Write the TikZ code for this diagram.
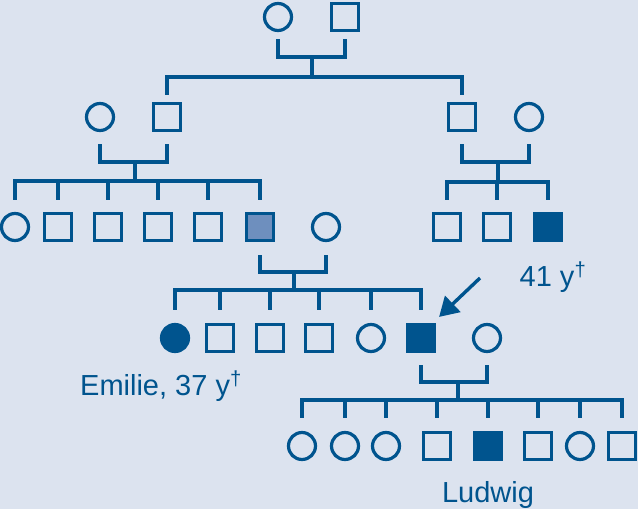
\documentclass[tikz,border=0pt]{standalone}
\usepackage{fontspec}
\setmainfont{Liberation Sans}
\usetikzlibrary{arrows.meta}
\definecolor{pedBlue}{RGB}{0,84,142}
\definecolor{pedGrey}{RGB}{110,143,190}
\definecolor{pedBack}{RGB}{220,227,239}

\begin{document}
\begin{tikzpicture}[
    x=1pt, y=-1pt,
    indiv/.style={draw=pedBlue, line width=3.2pt, minimum size=27pt, inner sep=0pt},
    male/.style={indiv, rectangle},
    female/.style={indiv, circle},
    affM/.style={male, fill=pedBlue},
    affF/.style={female, fill=pedBlue},
    carM/.style={male, fill=pedGrey},
    link/.style={draw=pedBlue, line width=3.2pt},
    pointer/.style={-{Triangle[length=19pt,width=22pt]}, draw=pedBlue, line width=3.4pt},
    lbl/.style={text=pedBlue, font=\fontsize{29}{34}\selectfont, inner sep=0pt, anchor=base},
  ]
  \fill[pedBack] (0,0) rectangle (638,509);
  \useasboundingbox (0,0) rectangle (638,509);

  % Generation I
  \node[female] (I1) at (278,17) {};
  \node[male]   (I2) at (345,17) {};

  % Generation II
  \node[female] (II1) at (100,117) {};
  \node[male]   (II2) at (167,117) {};
  \node[male]   (II3) at (462,117) {};
  \node[female] (II4) at (529,117) {};

  % Generation III
  \foreach \x/\s [count=\i] in {15/female, 58/male, 108/male, 158/male, 208/male,
      260/carM, 326/female, 447/male, 497/male, 548/affM}
    \node[\s] (III\i) at (\x,227) {};

  % Generation IV
  \foreach \x/\s [count=\i] in {175/affF, 220/male, 270/male, 319/male, 371/female,
      421/affM, 487/female}
    \node[\s] (IV\i) at (\x,338) {};

  % Generation V
  \foreach \x/\s [count=\i] in {302/female, 345/female, 386/female, 437/male,
      488/affM, 538/male, 580/female, 622/male}
    \node[\s] (V\i) at (\x,446) {};

  % I1 x I2
  \coordinate (J1) at (312,57);
  \coordinate (S1) at (312,77);
  \draw[link] ([yshift=-7pt]I1.south) |- (J1) -| ([yshift=-7pt]I2.south);
  \draw[link] (J1) -- (S1);
  \draw[link] ([yshift=7pt]II2.north) |- (S1) -| ([yshift=7pt]II3.north);

  % II1 x II2
  \coordinate (J2) at (135,162);
  \coordinate (S2) at (135,181);
  \draw[link] ([yshift=-12pt]II1.south) |- (J2) -| ([yshift=-12pt]II2.south);
  \draw[link] (J2) -- (S2);
  \draw[link] ([yshift=12pt]III1.north) |- (S2) -| ([yshift=12pt]III6.north);
  \foreach \i in {2,...,5}
    \draw[link] ([yshift=12pt]III\i.north) -- (III\i.north |- S2);

  % II3 x II4
  \coordinate (J3) at (498,162);
  \coordinate (S3) at (498,182);
  \draw[link] ([yshift=-12pt]II3.south) |- (J3) -| ([yshift=-12pt]II4.south);
  \draw[link] (J3) -- (S3);
  \draw[link] ([yshift=12pt]III8.north) |- (S3) -| ([yshift=12pt]III10.north);
  \draw[link] ([yshift=12pt]III9.north) -- (III9.north |- S3);

  % III6 x III7
  \coordinate (J4) at (294,272);
  \coordinate (S4) at (294,290);
  \draw[link] ([yshift=-13pt]III6.south) |- (J4) -| ([yshift=-13pt]III7.south);
  \draw[link] (J4) -- (S4);
  \draw[link] ([yshift=13pt]IV1.north) |- (S4) -| ([yshift=13pt]IV6.north);
  \foreach \i in {2,...,5}
    \draw[link] ([yshift=13pt]IV\i.north) -- (IV\i.north |- S4);

  % IV6 x IV7
  \coordinate (J5) at (458,382);
  \coordinate (S5) at (458,400);
  \draw[link] ([yshift=-12pt]IV6.south) |- (J5) -| ([yshift=-12pt]IV7.south);
  \draw[link] (J5) -- (S5);
  \draw[link] ([yshift=13pt]V1.north) |- (S5) -| ([yshift=13pt]V8.north);
  \foreach \i in {2,...,7}
    \draw[link] ([yshift=13pt]V\i.north) -- (V\i.north |- S5);

  % index case
  \coordinate (arrTail) at (480,278);
  \draw[pointer] (arrTail) -- ([xshift=3pt,yshift=6pt]IV6.north east);

  % labels
  \node[lbl] (emilie) at (161,395) {Emilie, 37 y\textsuperscript{†}};
  \node[lbl] (age41) at (553,286) {41 y\textsuperscript{†}};
  \node[lbl] (ludwig) at (488,502) {Ludwig};
\end{tikzpicture}
\end{document}
